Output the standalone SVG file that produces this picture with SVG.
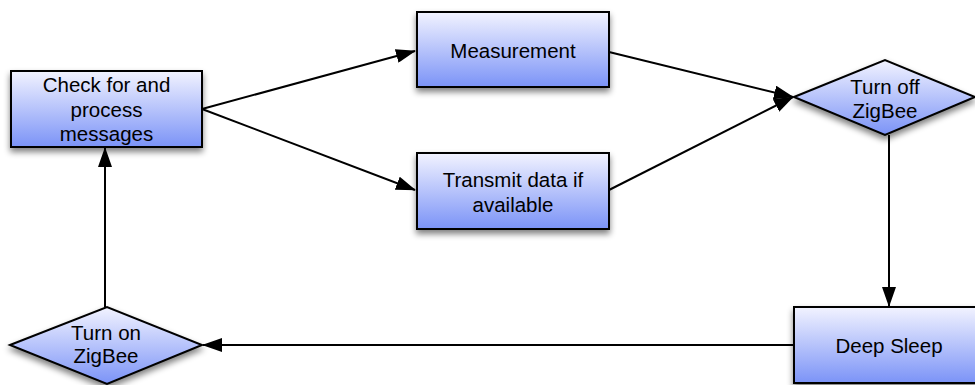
<svg xmlns="http://www.w3.org/2000/svg" width="975" height="385" viewBox="0 0 975 385">
<style>
.node{fill:url(#g);stroke:#000;stroke-width:2;filter:url(#sh)}
.t{font-family:"Liberation Sans",Arial,sans-serif;font-size:20.5px;fill:#000;text-anchor:middle}
.c{stroke:#000;stroke-width:2;fill:none;marker-end:url(#ah)}
</style>
<defs>
<linearGradient id="g" x1="0" y1="0" x2="0" y2="1">
<stop offset="0" stop-color="#f2f3ff"/>
<stop offset="1" stop-color="#7b93f7"/>
</linearGradient>
<filter id="sh" x="-20%" y="-20%" width="140%" height="150%">
<feGaussianBlur in="SourceAlpha" stdDeviation="3"/>
<feOffset dx="0" dy="4" result="b"/>
<feComponentTransfer><feFuncA type="linear" slope="0.5"/></feComponentTransfer>
<feMerge><feMergeNode/><feMergeNode in="SourceGraphic"/></feMerge>
</filter>
<marker id="ah" markerWidth="20" markerHeight="14" refX="19" refY="7" orient="auto" markerUnits="userSpaceOnUse">
<path d="M0,0 L20,7 L0,14 Z" fill="#000"/>
</marker>
</defs>
<g id="connectors">
<line class="c" x1="202" y1="109" x2="415" y2="51"/>
<line class="c" x1="202" y1="109" x2="415" y2="190"/>
<line class="c" x1="609" y1="52" x2="793" y2="97"/>
<line class="c" x1="609" y1="190" x2="793" y2="97"/>
<line class="c" x1="889" y1="135" x2="889" y2="306"/>
<line class="c" x1="794" y1="345" x2="203" y2="345"/>
<line class="c" x1="105" y1="307" x2="105" y2="148"/>
</g>
<g id="check">
<rect class="node" x="11" y="71" width="191" height="76"/>
<text class="t" x="106.5" y="92">Check for and</text>
<text class="t" x="106.5" y="117">process</text>
<text class="t" x="106.5" y="141">messages</text>
</g>
<g id="measurement">
<rect class="node" x="417" y="12" width="192" height="75"/>
<text class="t" x="513" y="58">Measurement</text>
</g>
<g id="transmit">
<rect class="node" x="417" y="153" width="192" height="76"/>
<text class="t" x="513" y="187">Transmit data if</text>
<text class="t" x="513" y="212">available</text>
</g>
<g id="turnoff">
<polygon class="node" points="794,97 885,60 975,97 885,135"/>
<text class="t" x="885" y="94">Turn off</text>
<text class="t" x="885" y="118">ZigBee</text>
</g>
<g id="deepsleep">
<rect class="node" x="794" y="307" width="185" height="76"/>
<text class="t" x="889" y="353">Deep Sleep</text>
</g>
<g id="turnon">
<polygon class="node" points="10,345 107,307 202,345 107,384"/>
<text class="t" x="106" y="340">Turn on</text>
<text class="t" x="106" y="363">ZigBee</text>
</g>
</svg>
